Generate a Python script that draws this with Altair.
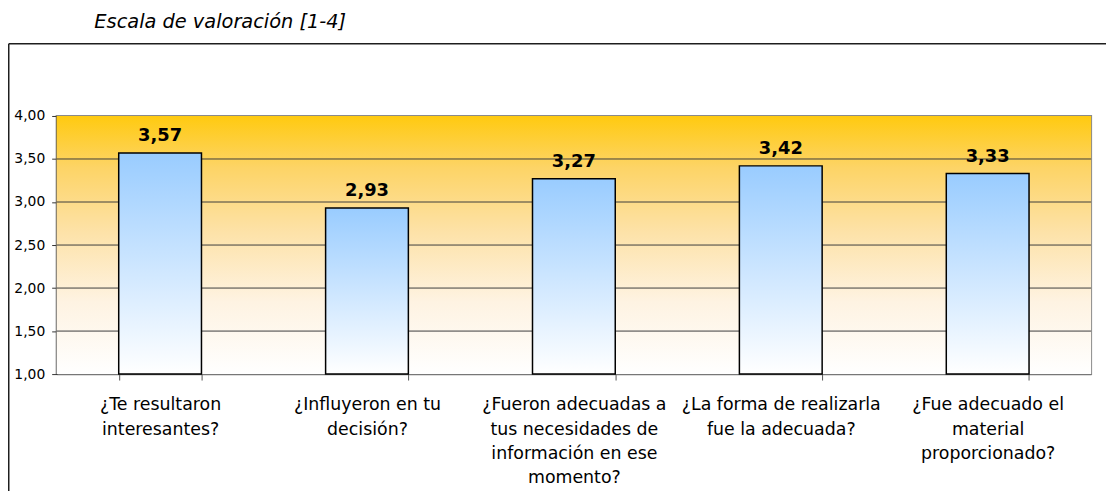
import altair as alt
import pandas as pd

categories = [
    "¿Te resultaron|interesantes?",
    "¿Influyeron en tu|decisión?",
    "¿Fueron adecuadas a|tus necesidades de|información en ese|momento?",
    "¿La forma de realizarla|fue la adecuada?",
    "¿Fue adecuado el|material|proporcionado?",
]
values = [3.57, 2.93, 3.27, 3.42, 3.33]
y_ticks = [1.0, 1.5, 2.0, 2.5, 3.0, 3.5, 4.0]
grid_values = [1.5, 2.0, 2.5, 3.0, 3.5]
title_text = "Escala de valoración [1-4]"

W, H = 1042, 260

df = pd.DataFrame({"cat": categories, "val": values})
grid_df = pd.DataFrame({"g": grid_values})
bg_df = pd.DataFrame({"top": [4.0], "bottom": [1.0]})

yscale = alt.Scale(domain=[1, 4], zero=False, nice=False)
xscale = alt.Scale(paddingInner=0.6, paddingOuter=0.3)

bg_grad = alt.Gradient(
    gradient="linear",
    stops=[
        alt.GradientStop(color="#FFCA10", offset=0),
        alt.GradientStop(color="#FDD466", offset=0.2),
        alt.GradientStop(color="#FDE2A8", offset=0.45),
        alt.GradientStop(color="#FEF3E2", offset=0.72),
        alt.GradientStop(color="#FFFFFF", offset=1),
    ],
    x1=0, x2=0, y1=0, y2=1,
)
bar_grad = alt.Gradient(
    gradient="linear",
    stops=[
        alt.GradientStop(color="#99CCFF", offset=0),
        alt.GradientStop(color="#FFFFFF", offset=1),
    ],
    x1=0, x2=0, y1=0, y2=1,
)

bg = alt.Chart(bg_df).mark_rect(fill=bg_grad).encode(
    y=alt.Y("top:Q", scale=yscale),
    y2="bottom:Q",
    x=alt.value(0),
    x2=alt.value("width"),
)

grid = alt.Chart(grid_df).mark_rule(color="#3c3c3c", strokeWidth=1).encode(
    y=alt.Y("g:Q", scale=yscale),
    x=alt.value(0),
    x2=alt.value("width"),
)

x_enc = alt.X(
    "cat:N",
    sort=categories,
    scale=xscale,
    axis=alt.Axis(
        title=None,
        labelAngle=0,
        labelExpr="split(datum.label, '|')",
        labelFontSize=17.5,
        labelLineHeight=24.5,
        labelBaseline="top",
        labelPadding=16,
        labelLimit=0,
        labelColor="#000000",
        tickBand="extent",
        tickSize=6,
        tickColor="#555555",
        domainColor="#777777",
        domainWidth=1.5,
    ),
)
y_enc = alt.Y(
    "val:Q",
    scale=yscale,
    axis=alt.Axis(
        title=None,
        values=y_ticks,
        labelExpr="replace(format(datum.value, '.2f'), '.', ',')",
        labelFontSize=14,
        labelColor="#000000",
        labelPadding=7,
        tickSize=5,
        tickColor="#333333",
        domainColor="#333333",
        domainWidth=1.5,
        grid=False,
    ),
)

bars = alt.Chart(df).mark_bar(fill=bar_grad, stroke="#000000", strokeWidth=1.5).encode(
    x=x_enc,
    y=y_enc,
    y2=alt.datum(1),
)

labels = alt.Chart(df).transform_calculate(
    txt="replace(format(datum.val, '.2f'), '.', ',')"
).mark_text(
    fontSize=18, fontWeight="bold", baseline="alphabetic", dy=-12, color="#000000"
).encode(
    x=alt.X("cat:N", sort=categories, scale=xscale),
    y=alt.Y("val:Q", scale=yscale),
    text="txt:N",
)

frame_top = alt.Chart(bg_df).mark_rule(color="#1e1e1e", strokeWidth=1.5).encode(
    x=alt.value(-48.25), x2=alt.value(1070), y=alt.value(-72.75)
)
frame_left = alt.Chart(bg_df).mark_rule(color="#1e1e1e", strokeWidth=1.5).encode(
    x=alt.value(-48.25), y=alt.value(-72.75), y2=alt.value(400)
)

chart = alt.layer(bg, grid, bars, labels, frame_top, frame_left).properties(
    width=W,
    height=H,
    autosize=alt.AutoSizeParams(type="none"),
    padding={"left": 49, "top": 107, "right": 15, "bottom": 116},
    title=alt.Title(
        title_text,
        anchor="start",
        frame="group",
        dx=38,
        offset=11,
        fontSize=19.5,
        fontStyle="italic",
        fontWeight="normal",
        color="#000000",
    ),
).configure(
    font="DejaVu Sans",
).configure_view(
    stroke="#8a8a8a", strokeWidth=2
)

chart.save("out.html", embed_options={"renderer": "svg", "actions": False})
